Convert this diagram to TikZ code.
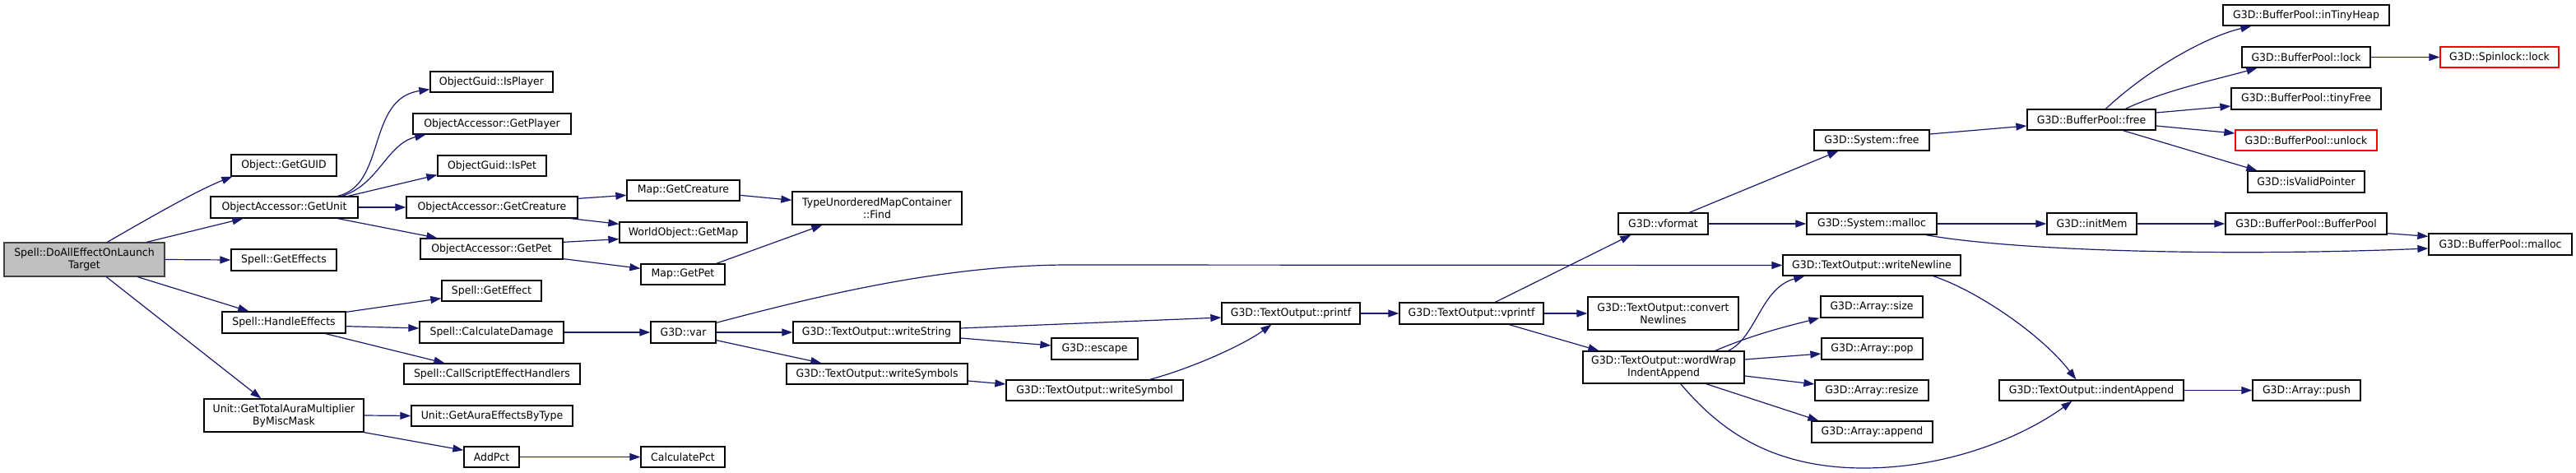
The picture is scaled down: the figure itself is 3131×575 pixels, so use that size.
\documentclass[tikz,border=0pt]{standalone}
\usepackage{fontspec}
\setmainfont{DejaVu Sans}[FakeStretch=0.96]
\usetikzlibrary{arrows.meta}
\definecolor{edgeblue}{HTML}{191970}
\definecolor{rootfill}{HTML}{BFBFBF}
\definecolor{rootline}{HTML}{404040}
\definecolor{trunc}{HTML}{FF0000}
\newcommand\nd[7][]{\node[nbox,#1,minimum width={#5-#3},minimum height={#6-#4}] (#2) at ({(#3+#5)/2},{(#4+#6)/2}) {#7};}
\begin{document}
\begin{tikzpicture}[x=1pt,y=-1pt,
  nbox/.style={draw=black,line width=1.3pt,fill=white,inner sep=0pt,align=center,font=\fontsize{13}{15}\selectfont},
  rootbox/.style={fill=rootfill,draw=rootline},
  redbox/.style={draw=trunc},
  cedge/.style={draw=edgeblue,line width=1.2pt,-{Triangle[length=13pt,width=9pt]}}]
\useasboundingbox (0,0) rectangle (3131,575);
\fill[white] (0,0) rectangle (3131,575);
% nodes
\nd[rootbox]{root}{5}{295}{200}{336}{Spell::DoAllEffectOnLaunch\\Target}
\nd{guid}{281}{188}{409}{214}{Object::GetGUID}
\nd{getunit}{256}{239}{435}{265}{ObjectAccessor::GetUnit}
\nd{geteffects}{281}{303}{409}{329}{Spell::GetEffects}
\nd{handle}{270}{379}{420}{405}{Spell::HandleEffects}
\nd{aura}{248}{485}{442}{525}{Unit::GetTotalAuraMultiplier\\ByMiscMask}
\nd{isplayer}{523}{87}{672}{112}{ObjectGuid::IsPlayer}
\nd{getplayer}{502}{138}{694}{163}{ObjectAccessor::GetPlayer}
\nd{ispet}{532}{189}{664}{214}{ObjectGuid::IsPet}
\nd{getcreature}{494}{239}{702}{265}{ObjectAccessor::GetCreature}
\nd{getpet}{511}{290}{684}{315}{ObjectAccessor::GetPet}
\nd{mapcreature}{762}{219}{899}{244}{Map::GetCreature}
\nd{getmap}{753}{270}{908}{295}{WorldObject::GetMap}
\nd{mappet}{779}{321}{881}{346}{Map::GetPet}
\nd{find}{963}{233}{1169}{273}{TypeUnorderedMapContainer\\::Find}
\nd{geteffect}{537}{341}{658}{366}{Spell::GetEffect}
\nd{calcdmg}{510}{391}{685}{417}{Spell::CalculateDamage}
\nd{callscript}{491}{442}{705}{467}{Spell::CallScriptEffectHandlers}
\nd{auratype}{500}{493}{696}{518}{Unit::GetAuraEffectsByType}
\nd{addpct}{564}{543}{631}{568}{AddPct}
\nd{calcpct}{779}{543}{881}{568}{CalculatePct}
\nd{var}{791}{391}{870}{417}{G3D::var}
\nd{wstring}{964}{391}{1167}{417}{G3D::TextOutput::writeString}
\nd{wsymbols}{956}{442}{1176}{467}{G3D::TextOutput::writeSymbols}
\nd{escape}{1278}{411}{1383}{437}{G3D::escape}
\nd{wsymbol}{1223}{462}{1438}{487}{G3D::TextOutput::writeSymbol}
\nd{printf}{1485}{368}{1653}{394}{G3D::TextOutput::printf}
\nd{vprintf}{1701}{368}{1876}{394}{G3D::TextOutput::vprintf}
\nd{vformat}{1967}{259}{2076}{285}{G3D::vformat}
\nd{sfree}{2205}{158}{2345}{183}{G3D::System::free}
\nd{smalloc}{2196}{259}{2354}{285}{G3D::System::malloc}
\nd{newline}{2167}{310}{2383}{335}{G3D::TextOutput::writeNewline}
\nd{convert}{1930}{361}{2113}{401}{G3D::TextOutput::convert\\Newlines}
\nd{wordwrap}{1924}{427}{2120}{466}{G3D::TextOutput::wordWrap\\IndentAppend}
\nd{asize}{2213}{360}{2337}{386}{G3D::Array::size}
\nd{apop}{2214}{411}{2337}{437}{G3D::Array::pop}
\nd{aresize}{2206}{462}{2344}{487}{G3D::Array::resize}
\nd{aappend}{2202}{512}{2349}{538}{G3D::Array::append}
\nd{indent}{2430}{462}{2654}{487}{G3D::TextOutput::indentAppend}
\nd{apush}{2738}{462}{2869}{487}{G3D::Array::push}
\nd{bpfree}{2464}{133}{2620}{158}{G3D::BufferPool::free}
\nd{tinyheap}{2702}{6}{2904}{31}{G3D::BufferPool::inTinyHeap}
\nd{bplock}{2725}{57}{2881}{82}{G3D::BufferPool::lock}
\nd[redbox]{spinlock}{2966}{57}{3110}{82}{G3D::Spinlock::lock}
\nd{tinyfree}{2712}{107}{2894}{133}{G3D::BufferPool::tinyFree}
\nd[redbox]{unlock}{2717}{158}{2889}{183}{G3D::BufferPool::unlock}
\nd{valid}{2732}{208}{2874}{234}{G3D::isValidPointer}
\nd{initmem}{2488}{259}{2597}{285}{G3D::initMem}
\nd{bpctor}{2705}{259}{2901}{285}{G3D::BufferPool::BufferPool}
\nd{bpmalloc}{2952}{284}{3126}{310}{G3D::BufferPool::malloc}
% edges from root
\draw[cedge] ([xshift=126]root.north west) .. controls (171,271) and (238,232) .. ([xshift=2]guid.south west);
\draw[cedge] ([xshift=174]root.north west) -- ([xshift=40]getunit.south west);
\draw[cedge] (root.east) -- (geteffects.west);
\draw[cedge] ([xshift=163]root.south west) -- ([xshift=33]handle.north west);
\draw[cedge] ([xshift=125]root.south west) -- ([xshift=70]aura.north west);
% GetUnit
\draw[cedge] ([xshift=155]getunit.north west) .. controls (470,225) and (445,120) .. ([yshift=4]isplayer.south west);
\draw[cedge] ([xshift=160]getunit.north west) .. controls (460,225) and (470,175) .. ([xshift=16]getplayer.south west);
\draw[cedge] ([xshift=168]getunit.north west) -- ([yshift=2]ispet.south west);
\draw[cedge] (getunit.east) -- (getcreature.west);
\draw[cedge] ([xshift=155]getunit.south west) -- ([xshift=21]getpet.north west);
% GetCreature / GetPet
\draw[cedge] ([yshift=-3]getcreature.north east) -- ([yshift=-19]mapcreature.north west);
\draw[cedge] ([xshift=-9]getcreature.south east) -- ([yshift=-3]getmap.north west);
\draw[cedge] ([yshift=-5]getpet.north east) -- ([yshift=5]getmap.south west);
\draw[cedge] ([yshift=1]getpet.south east) -- ([yshift=-6]mappet.north west);
\draw[cedge] ([yshift=-19]mapcreature.north east) -- ([yshift=-11]find.north west);
\draw[cedge] ([xshift=-11]mappet.north east) -- ([xshift=37]find.south west);
% HandleEffects
\draw[cedge] ([yshift=-1]handle.north east) -- ([yshift=4]geteffect.south west);
\draw[cedge] ([yshift=9]handle.south east) -- ([yshift=5]calcdmg.west);
\draw[cedge] ([xshift=-25]handle.south east) -- ([xshift=50]callscript.north west);
\draw[cedge] (calcdmg.east) -- (var.west);
% Aura
\draw[cedge] (aura.east) -- (auratype.west);
\draw[cedge] (aura.south east) -- ([yshift=-5]addpct.north west);
\draw[cedge] (addpct.east) -- (calcpct.west);
% var
\draw[cedge] ([yshift=-2]var.north east) .. controls (1000,358) and (1150,322) .. (1300,322) -- (newline.west);
\draw[cedge] (var.east) -- (wstring.west);
\draw[cedge] ([yshift=4]var.south east) -- ([xshift=43]wsymbols.north west);
% writeString / writeSymbols
\draw[cedge] ([yshift=5]wstring.east) -- ([yshift=-5]printf.west);
\draw[cedge] ([yshift=-7]wstring.east) -- ([yshift=4]escape.west);
\draw[cedge] ([yshift=-8.5]wsymbols.east) -- ([yshift=7.5]wsymbol.west);
\draw[cedge] ([xshift=-41]wsymbol.north east) .. controls (1450,447) and (1510,420) .. ([xshift=61]printf.south west);
\draw[cedge] (printf.east) -- (vprintf.west);
% vprintf
\draw[cedge] ([xshift=117]vprintf.north west) -- ([xshift=16]vformat.south west);
\draw[cedge] (vprintf.east) -- (convert.west);
\draw[cedge] ([xshift=134]vprintf.south west) -- ([xshift=20]wordwrap.north west);
% vformat
\draw[cedge] ([xshift=87]vformat.north west) -- ([xshift=30]sfree.south west);
\draw[cedge] (vformat.east) -- (smalloc.west);
% writeNewline
\draw[cedge] ([xshift=-34]newline.south east) .. controls (2400,352) and (2480,405) .. ([xshift=94]indent.north west);
% wordWrap
\draw[cedge] ([xshift=-20]wordwrap.north east) .. controls (2135,410) and (2140,350) .. ([xshift=27]newline.south west);
\draw[cedge] ([xshift=-36]wordwrap.north east) .. controls (2130,407) and (2170,397) .. ([xshift=-1]asize.south west);
\draw[cedge] ([yshift=9.5]wordwrap.east) -- ([yshift=-6]apop.west);
\draw[cedge] ([yshift=-10.5]wordwrap.east) -- ([yshift=7.5]aresize.west);
\draw[cedge] ([xshift=-47]wordwrap.south east) -- ([xshift=9]aappend.north west);
\draw[cedge] ([xshift=-78]wordwrap.south east) .. controls (2080,510) and (2140,569) .. (2265,569) .. controls (2370,569) and (2460,530) .. ([xshift=89]indent.south west);
\draw[cedge] (indent.east) -- (apush.west);
% System
\draw[cedge] ([yshift=7.5]sfree.east) -- ([yshift=-7.5]bpfree.west);
\draw[cedge] (smalloc.east) -- (initmem.west);
\draw[cedge] ([xshift=-14]smalloc.south east) .. controls (2450,305) and (2700,312) .. ([yshift=-5]bpmalloc.west);
% BufferPool::free
\draw[cedge] ([xshift=96]bpfree.north west) .. controls (2610,85) and (2680,45) .. ([xshift=35]tinyheap.south west);
\draw[cedge] ([xshift=120]bpfree.north west) .. controls (2630,110) and (2700,95) .. ([xshift=19]bplock.south west);
\draw[cedge] ([yshift=8.5]bpfree.east) -- ([yshift=-9]tinyfree.west);
\draw[cedge] ([yshift=-7.5]bpfree.east) -- ([yshift=8.5]unlock.west);
\draw[cedge] ([xshift=117]bpfree.south west) -- ([xshift=12]valid.north west);
\draw[cedge] (bplock.east) -- (spinlock.west);
\draw[cedge] (initmem.east) -- (bpctor.west);
\draw[cedge] ([yshift=2]bpctor.south east) -- ([yshift=-4]bpmalloc.north west);
\end{tikzpicture}
\end{document}
